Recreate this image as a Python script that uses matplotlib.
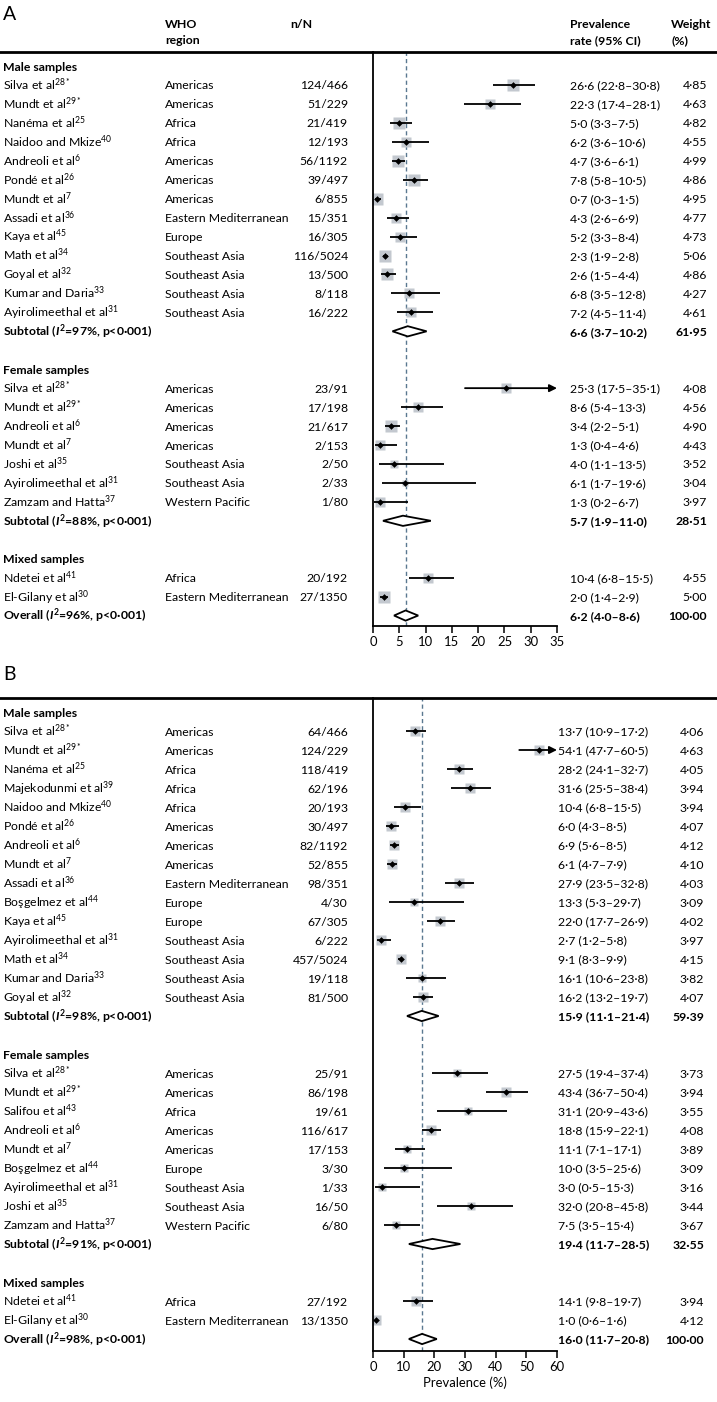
import matplotlib
matplotlib.use("Agg")
import matplotlib.pyplot as plt
import matplotlib.transforms as mtransforms
from matplotlib.lines import Line2D
from matplotlib.patches import Polygon

plt.rcParams['font.family'] = ['Lato', 'DejaVu Sans']
plt.rcParams['mathtext.fontset'] = 'custom'
plt.rcParams['mathtext.rm'] = 'Lato'
plt.rcParams['mathtext.it'] = 'Lato:italic:bold'
plt.rcParams['mathtext.bf'] = 'Lato:bold'

# ---------------- panel A data ----------------
a_groups = ["Male samples", "Female samples", "Mixed samples"]
a_counts = [13, 7, 2]
a_study = ["Silva et al", "Mundt et al", "Nanéma et al", "Naidoo and Mkize", "Andreoli et al",
           "Pondé et al", "Mundt et al", "Assadi et al", "Kaya et al", "Math et al",
           "Goyal et al", "Kumar and Daria", "Ayirolimeethal et al",
           "Silva et al", "Mundt et al", "Andreoli et al", "Mundt et al", "Joshi et al",
           "Ayirolimeethal et al", "Zamzam and Hatta",
           "Ndetei et al", "El-Gilany et al"]
a_ref = ["28*", "29*", "25", "40", "6", "26", "7", "36", "45", "34", "32", "33", "31",
         "28*", "29*", "6", "7", "35", "31", "37",
         "41", "30"]
a_region = ["Americas", "Americas", "Africa", "Africa", "Americas", "Americas", "Americas",
            "Eastern Mediterranean", "Europe", "Southeast Asia", "Southeast Asia",
            "Southeast Asia", "Southeast Asia",
            "Americas", "Americas", "Americas", "Americas", "Southeast Asia",
            "Southeast Asia", "Western Pacific",
            "Africa", "Eastern Mediterranean"]
a_nn = ["124/466", "51/229", "21/419", "12/193", "56/1192", "39/497", "6/855", "15/351",
        "16/305", "116/5024", "13/500", "8/118", "16/222",
        "23/91", "17/198", "21/617", "2/153", "2/50", "2/33", "1/80",
        "20/192", "27/1350"]
a_est = [26.6, 22.3, 5.0, 6.2, 4.7, 7.8, 0.7, 4.3, 5.2, 2.3, 2.6, 6.8, 7.2,
         25.3, 8.6, 3.4, 1.3, 4.0, 6.1, 1.3,
         10.4, 2.0]
a_lo = [22.8, 17.4, 3.3, 3.6, 3.6, 5.8, 0.3, 2.6, 3.3, 1.9, 1.5, 3.5, 4.5,
        17.5, 5.4, 2.2, 0.4, 1.1, 1.7, 0.2,
        6.8, 1.4]
a_hi = [30.8, 28.1, 7.5, 10.6, 6.1, 10.5, 1.5, 6.9, 8.4, 2.8, 4.4, 12.8, 11.4,
        35.1, 13.3, 5.1, 4.6, 13.5, 19.6, 6.7,
        15.5, 2.9]
a_wt = [4.85, 4.63, 4.82, 4.55, 4.99, 4.86, 4.95, 4.77, 4.73, 5.06, 4.86, 4.27, 4.61,
        4.08, 4.56, 4.90, 4.43, 3.52, 3.04, 3.97,
        4.55, 5.00]
a_sub_i2 = ["97%", "88%"]
a_sub_est = [6.6, 5.7]
a_sub_lo = [3.7, 1.9]
a_sub_hi = [10.2, 11.0]
a_sub_wt = [61.95, 28.51]
a_all_i2 = "96%"
a_all = (6.2, 4.0, 8.6, 100.00)

# ---------------- panel B data ----------------
b_groups = ["Male samples", "Female samples", "Mixed samples"]
b_counts = [15, 9, 2]
b_study = ["Silva et al", "Mundt et al", "Nanéma et al", "Majekodunmi et al", "Naidoo and Mkize",
           "Pondé et al", "Andreoli et al", "Mundt et al", "Assadi et al", "Boşgelmez et al",
           "Kaya et al", "Ayirolimeethal et al", "Math et al", "Kumar and Daria", "Goyal et al",
           "Silva et al", "Mundt et al", "Salifou et al", "Andreoli et al", "Mundt et al",
           "Boşgelmez et al", "Ayirolimeethal et al", "Joshi et al", "Zamzam and Hatta",
           "Ndetei et al", "El-Gilany et al"]
b_ref = ["28*", "29*", "25", "39", "40", "26", "6", "7", "36", "44", "45", "31", "34", "33", "32",
         "28*", "29*", "43", "6", "7", "44", "31", "35", "37",
         "41", "30"]
b_region = ["Americas", "Americas", "Africa", "Africa", "Africa", "Americas", "Americas",
            "Americas", "Eastern Mediterranean", "Europe", "Europe", "Southeast Asia",
            "Southeast Asia", "Southeast Asia", "Southeast Asia",
            "Americas", "Americas", "Africa", "Americas", "Americas", "Europe",
            "Southeast Asia", "Southeast Asia", "Western Pacific",
            "Africa", "Eastern Mediterranean"]
b_nn = ["64/466", "124/229", "118/419", "62/196", "20/193", "30/497", "82/1192", "52/855",
        "98/351", "4/30", "67/305", "6/222", "457/5024", "19/118", "81/500",
        "25/91", "86/198", "19/61", "116/617", "17/153", "3/30", "1/33", "16/50", "6/80",
        "27/192", "13/1350"]
b_est = [13.7, 54.1, 28.2, 31.6, 10.4, 6.0, 6.9, 6.1, 27.9, 13.3, 22.0, 2.7, 9.1, 16.1, 16.2,
         27.5, 43.4, 31.1, 18.8, 11.1, 10.0, 3.0, 32.0, 7.5,
         14.1, 1.0]
b_lo = [10.9, 47.7, 24.1, 25.5, 6.8, 4.3, 5.6, 4.7, 23.5, 5.3, 17.7, 1.2, 8.3, 10.6, 13.2,
        19.4, 36.7, 20.9, 15.9, 7.1, 3.5, 0.5, 20.8, 3.5,
        9.8, 0.6]
b_hi = [17.2, 60.5, 32.7, 38.4, 15.5, 8.5, 8.5, 7.9, 32.8, 29.7, 26.9, 5.8, 9.9, 23.8, 19.7,
        37.4, 50.4, 43.6, 22.1, 17.1, 25.6, 15.3, 45.8, 15.4,
        19.7, 1.6]
b_wt = [4.06, 4.63, 4.05, 3.94, 3.94, 4.07, 4.12, 4.10, 4.03, 3.09, 4.02, 3.97, 4.15, 3.82, 4.07,
        3.73, 3.94, 3.55, 4.08, 3.89, 3.09, 3.16, 3.44, 3.67,
        3.94, 4.12]
b_sub_i2 = ["98%", "91%"]
b_sub_est = [15.9, 19.4]
b_sub_lo = [11.1, 11.7]
b_sub_hi = [21.4, 28.5]
b_sub_wt = [59.39, 32.55]
b_all_i2 = "98%"
b_all = (16.0, 11.7, 20.8, 100.00)

W, H = 717, 1402
FS = 8.8
SQ_GREY = '#c3c8cf'
REF_BLUE = '#5a7890'

fig = plt.figure(figsize=(W / 100, H / 100), dpi=100)


def fmt(v, nd=1):
    return f"{v:.{nd}f}".replace('.', '·')


def ci_text(e, lo, hi):
    return f"{fmt(e)} ({fmt(lo)}–{fmt(hi)})"


def add_axes_px(left, top, right, bottom):
    return fig.add_axes([left / W, 1 - bottom / H, (right - left) / W, (bottom - top) / H])


def draw_panel(ax, xmax, xstep, pitch, first_px, top_px, bot_px, cols,
               groups, counts, study, ref, region, nn, est, lo, hi, wt,
               sub_i2, sub_est, sub_lo, sub_hi, sub_wt, all_i2, overall):
    tr = mtransforms.blended_transform_factory(fig.transFigure, ax.transData)
    x_name, x_reg, x_nn, x_ci, x_wt = [c / W for c in cols]
    base = 0.24

    def txt(x, y, s, **kw):
        ax.text(x, y + base, s, transform=tr, fontsize=FS, va='baseline', **kw)

    row = 0
    k = 0
    for g, (gname, n) in enumerate(zip(groups, counts)):
        txt(x_name, row, gname, fontweight='bold')
        row += 1
        for _ in range(n):
            txt(x_name, row, study[k] + r"$^{\mathrm{" + ref[k] + "}}$")
            txt(x_reg, row, region[k])
            txt(x_nn, row, nn[k], ha='right')
            txt(x_ci, row, ci_text(est[k], lo[k], hi[k]))
            txt(x_wt, row, fmt(wt[k], 2), ha='right')
            side = 2.3 * wt[k] * 0.72
            ax.plot(est[k], row, marker='s', ms=side, color=SQ_GREY, mec='none', zorder=2)
            if hi[k] > xmax:
                # CI runs past the axis: draw it with an arrowhead at the edge
                ax.annotate('', xy=(xmax, row), xytext=(lo[k], row),
                            arrowprops=dict(arrowstyle='-|>', color='k', lw=1.3,
                                            mutation_scale=11, shrinkA=0, shrinkB=0),
                            annotation_clip=False, zorder=3)
            else:
                ax.plot([lo[k], hi[k]], [row, row], color='k', lw=1.3, zorder=3,
                        solid_capstyle='butt')
            ax.plot(est[k], row, marker='D', ms=3.4, color='k', mec='none', zorder=4)
            row += 1
            k += 1
        if g < len(sub_est):
            label = r"Subtotal ($\mathit{I}^{\mathbf{2}}$=" + sub_i2[g] + ", p<0·001)"
            e, l, h, w = sub_est[g], sub_lo[g], sub_hi[g], sub_wt[g]
        else:
            label = r"Overall ($\mathit{I}^{\mathbf{2}}$=" + all_i2 + ", p<0·001)"
            e, l, h, w = overall
        txt(x_name, row, label, fontweight='bold')
        txt(x_ci, row, ci_text(e, l, h), fontweight='bold')
        txt(x_wt, row, fmt(w, 2), ha='right', fontweight='bold')
        dh = 0.27
        ax.add_patch(Polygon([[l, row], [e, row - dh], [h, row], [e, row + dh]], closed=True,
                             fc='white', ec='k', lw=1.3, zorder=4))
        row += 2

    ax.axvline(overall[0], color=REF_BLUE, lw=1.0, ls=(0, (3, 2.2)), zorder=1)

    y_top = (top_px - first_px) / pitch
    y_bot = (bot_px - first_px) / pitch
    ax.set_ylim(y_bot, y_top)
    ax.set_xlim(0, xmax)
    ax.set_xticks(range(0, xmax + 1, xstep))
    ax.set_yticks([])
    for s in ['top', 'right']:
        ax.spines[s].set_visible(False)
    for s in ['left', 'bottom']:
        ax.spines[s].set_linewidth(1.3)
    ax.tick_params(axis='x', direction='out', length=5, width=1.1, labelsize=9.4, pad=2)
    ax.patch.set_alpha(0)

    hline = Line2D([0, 1], [1, 1], transform=mtransforms.blended_transform_factory(
        fig.transFigure, ax.transAxes), color='k', lw=2.0, clip_on=False)
    ax.add_line(hline)


axA = add_axes_px(373, 52, 557, 626)
axB = add_axes_px(373, 698, 557, 1351)

draw_panel(axA, 35, 5, 18.95, 66, 52, 626, (3, 165, 348, 570, 707),
           a_groups, a_counts, a_study, a_ref, a_region, a_nn, a_est, a_lo, a_hi, a_wt,
           a_sub_i2, a_sub_est, a_sub_lo, a_sub_hi, a_sub_wt, a_all_i2, a_all)
draw_panel(axB, 60, 10, 19.0, 712, 698, 1351, (3, 165, 348, 558, 704),
           b_groups, b_counts, b_study, b_ref, b_region, b_nn, b_est, b_lo, b_hi, b_wt,
           b_sub_i2, b_sub_est, b_sub_lo, b_sub_hi, b_sub_wt, b_all_i2, b_all)
axB.set_xlabel("Prevalence (%)", fontsize=9.4, labelpad=3)

# panel letters and column headers
fig.text(3 / W, 1 - 14 / H, "A", fontsize=14, va='center')
fig.text(3 / W, 1 - 674 / H, "B", fontsize=14, va='center')
hdr = dict(fontsize=FS, fontweight='bold', va='center')
fig.text(165 / W, 1 - 24 / H, "WHO", **hdr)
fig.text(165 / W, 1 - 41 / H, "region", **hdr)
fig.text(290 / W, 1 - 24 / H, "n/N", **hdr)
fig.text(570 / W, 1 - 24 / H, "Prevalence", **hdr)
fig.text(570 / W, 1 - 41 / H, "rate (95% CI)", **hdr)
fig.text(671 / W, 1 - 24 / H, "Weight", **hdr)
fig.text(671 / W, 1 - 41 / H, "(%)", **hdr)

fig.savefig("out.png", dpi=100)
